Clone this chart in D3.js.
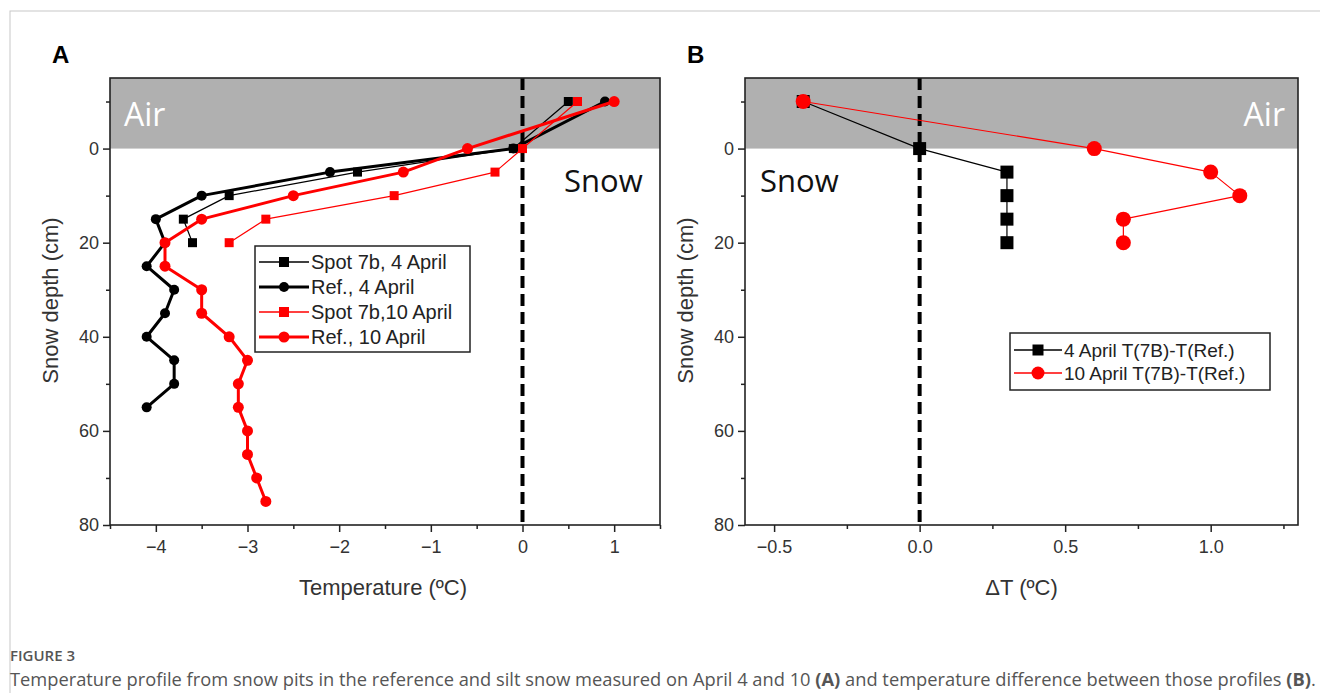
<!DOCTYPE html>
<html>
<head>
<meta charset="utf-8">
<script src="https://cdn.jsdelivr.net/npm/d3@7"></script>
<style>
  body { margin: 0; background: #fff; }
  svg { display: block; }
</style>
</head>
<body>
<div id="chart"></div>
<script>
// depth (cm) — negative values are in the air above the snow surface
var shortDepths = [-10, 0, 5, 10, 15, 20];
var refDepths4 = [-10, 0, 5, 10, 15, 20, 25, 30, 35, 40, 45, 50, 55];
var refDepths10 = [-10, 0, 5, 10, 15, 20, 25, 30, 35, 40, 45, 50, 55, 60, 65, 70, 75];

// panel A temperatures (ºC)
var spot4 = [0.5, -0.1, -1.8, -3.2, -3.7, -3.6];
var ref4 = [0.9, -0.1, -2.1, -3.5, -4.0, -3.9, -4.1, -3.8, -3.9, -4.1, -3.8, -3.8, -4.1];
var spot10 = [0.6, 0.0, -0.3, -1.4, -2.8, -3.2];
var ref10 = [1.0, -0.6, -1.3, -2.5, -3.5, -3.9, -3.9, -3.5, -3.5, -3.2, -3.0, -3.1, -3.1, -3.0, -3.0, -2.9, -2.8];

// panel B differences T(7B)-T(Ref.)
var diff4 = [-0.4, 0.0, 0.3, 0.3, 0.3, 0.3];
var diff10 = [-0.4, 0.6, 1.0, 1.1, 0.7, 0.7];

var legendA = ["Spot 7b, 4 April", "Ref., 4 April", "Spot 7b,10 April", "Ref., 10 April"];
var legendB = ["4 April T(7B)-T(Ref.)", "10 April T(7B)-T(Ref.)"];

var depthTicks = [0, 20, 40, 60, 80];
var depthMinor = [-10, 10, 30, 50, 70];
var tempTicks = [-4, -3, -2, -1, 0, 1];
var tempMinor = [-4.5, -3.5, -2.5, -1.5, -0.5, 0.5, 1.5];
var diffTicks = [-0.5, 0.0, 0.5, 1.0];
var diffMinor = [-0.25, 0.25, 0.75, 1.25];

function zip(xs, ys) {
  return xs.map(function (v, i) { return {x: v, y: ys[i]}; });
}

var svg = d3.select("#chart").append("svg")
  .attr("width", 1320).attr("height", 693);

// page frame
svg.append("rect")
  .attr("x", 10).attr("y", 11).attr("width", 1330).attr("height", 700)
  .attr("fill", "none").attr("stroke", "#c8c8c8").attr("stroke-width", 1);

var axisFont = "Liberation Sans, Arial, sans-serif";

function panel(opt) {
  var g = svg.append("g");
  var x = d3.scaleLinear().domain(opt.xDomain).range([opt.left, opt.right]);
  var y = d3.scaleLinear().domain([-15, 80]).range([opt.top, opt.bottom]);

  // air band
  g.append("rect")
    .attr("x", opt.left).attr("y", y(-15))
    .attr("width", opt.right - opt.left).attr("height", y(0) - y(-15))
    .attr("fill", "#b0b0b0");

  g.append("text").attr("x", opt.airX).attr("y", y(-10) + 24)
    .attr("text-anchor", opt.airAnchor)
    .attr("font-family", "Open Sans, sans-serif").attr("font-size", 32)
    .attr("fill", "#fff").text("Air");
  g.append("text").attr("x", opt.snowX).attr("y", y(5) + 20)
    .attr("font-family", "Open Sans, sans-serif").attr("font-size", 31)
    .attr("fill", "#111").text("Snow");

  // dashed zero line
  g.append("line")
    .attr("x1", x(0)).attr("x2", x(0)).attr("y1", opt.top).attr("y2", opt.bottom)
    .attr("stroke", "#000").attr("stroke-width", 4).attr("stroke-dasharray", "12,6");

  // axes
  g.append("g").attr("transform", "translate(0," + opt.bottom + ")")
    .call(d3.axisBottom(x).tickValues(opt.xTicks).tickSize(7).tickPadding(8).tickFormat(opt.xFormat));
  g.append("g").attr("transform", "translate(0," + opt.bottom + ")")
    .call(d3.axisBottom(x).tickValues(opt.xMinor).tickSize(4).tickFormat(""));
  g.append("g").attr("transform", "translate(" + opt.left + ",0)")
    .call(d3.axisLeft(y).tickValues(depthTicks).tickSize(7).tickPadding(4));
  g.append("g").attr("transform", "translate(" + opt.left + ",0)")
    .call(d3.axisLeft(y).tickValues(depthMinor).tickSize(4).tickFormat(""));
  g.selectAll(".domain").remove();
  g.selectAll(".tick line").attr("stroke", "#222").attr("stroke-width", 1.5);
  g.selectAll(".tick text").attr("font-family", axisFont).attr("font-size", 18).attr("fill", "#333");

  // frame
  g.append("rect")
    .attr("x", opt.left).attr("y", opt.top)
    .attr("width", opt.right - opt.left).attr("height", opt.bottom - opt.top)
    .attr("fill", "none").attr("stroke", "#222").attr("stroke-width", 1.6);

  // titles
  g.append("text").attr("x", (opt.left + opt.right) / 2 - opt.xTitleShift).attr("y", 595)
    .attr("text-anchor", "middle").attr("font-family", axisFont).attr("font-size", 22)
    .attr("fill", "#333").text(opt.xTitle);
  g.append("text")
    .attr("transform", "translate(" + (opt.left - 52) + "," + ((opt.top + opt.bottom) / 2 - 1) + ") rotate(-90)")
    .attr("text-anchor", "middle").attr("font-family", axisFont).attr("font-size", 22)
    .attr("fill", "#333").text("Snow depth (cm)");
  g.append("text").attr("x", opt.left - 58).attr("y", 63)
    .attr("font-family", axisFont).attr("font-size", 24).attr("font-weight", "bold")
    .text(opt.letter);

  return {g: g, x: x, y: y};
}

function series(p, pts, color, width, shape, size) {
  var line = d3.line().x(function (d) { return p.x(d.x); }).y(function (d) { return p.y(d.y); });
  p.g.append("path").datum(pts).attr("d", line)
    .attr("fill", "none").attr("stroke", color).attr("stroke-width", width)
    .attr("stroke-linejoin", "round");
  var sym = d3.symbol().type(shape === "square" ? d3.symbolSquare : d3.symbolCircle)
    .size(shape === "square" ? size * size : Math.PI * size * size / 4);
  p.g.selectAll(null).data(pts).enter().append("path")
    .attr("d", sym)
    .attr("transform", function (d) { return "translate(" + p.x(d.x) + "," + p.y(d.y) + ")"; })
    .attr("fill", color);
}

function legend(p, box, items) {
  var lg = p.g.append("g");
  lg.append("rect").attr("x", box.x).attr("y", box.y).attr("width", box.w).attr("height", box.h)
    .attr("fill", "#fff").attr("stroke", "#222").attr("stroke-width", 1.5);
  items.forEach(function (it, i) {
    var yy = box.y + box.first + i * box.step;
    lg.append("line").attr("x1", box.x + 4).attr("x2", box.x + box.sample).attr("y1", yy).attr("y2", yy)
      .attr("stroke", it.color).attr("stroke-width", it.width);
    var cx = box.x + 4 + (box.sample - 4) / 2;
    var sym = d3.symbol().type(it.shape === "square" ? d3.symbolSquare : d3.symbolCircle)
      .size(it.shape === "square" ? it.size * it.size : Math.PI * it.size * it.size / 4);
    lg.append("path").attr("d", sym).attr("transform", "translate(" + cx + "," + yy + ")").attr("fill", it.color);
    lg.append("text").attr("x", box.x + box.sample + 2).attr("y", yy + 7)
      .attr("font-family", axisFont).attr("font-size", box.font).attr("fill", "#222").text(it.label);
  });
}

// Panel A
var pA = panel({
  left: 110, right: 660, top: 78, bottom: 525,
  xDomain: [-4.5, 1.5], xTicks: tempTicks, xMinor: tempMinor, xFormat: d3.format("d"),
  xTitle: "Temperature (ºC)", xTitleShift: 2, letter: "A",
  airX: 124, airAnchor: "start", snowX: 564
});
series(pA, zip(spot4, shortDepths), "#000", 1.2, "square", 9);
series(pA, zip(ref4, refDepths4), "#000", 3, "circle", 10);
series(pA, zip(spot10, shortDepths), "#f00", 1.2, "square", 9);
series(pA, zip(ref10, refDepths10), "#f00", 3, "circle", 11);
legend(pA, {x: 255, y: 246, w: 215, h: 106, first: 16, step: 25, sample: 54, font: 20}, [
  {label: legendA[0], color: "#000", width: 1.5, shape: "square", size: 10},
  {label: legendA[1], color: "#000", width: 3, shape: "circle", size: 10},
  {label: legendA[2], color: "#f00", width: 1.5, shape: "square", size: 10},
  {label: legendA[3], color: "#f00", width: 3, shape: "circle", size: 11}
]);

// Panel B
var pB = panel({
  left: 745, right: 1298, top: 78, bottom: 525,
  xDomain: [-0.6, 1.3], xTicks: diffTicks, xMinor: diffMinor, xFormat: d3.format(".1f"),
  xTitle: "ΔT (ºC)", xTitleShift: 0, letter: "B",
  airX: 1285, airAnchor: "end", snowX: 760
});
series(pB, zip(diff4, shortDepths), "#000", 1.2, "square", 13);
series(pB, zip(diff10, shortDepths), "#f00", 1.2, "circle", 15);
legend(pB, {x: 1010, y: 333, w: 260, h: 57, first: 17, step: 23, sample: 52, font: 19}, [
  {label: legendB[0], color: "#000", width: 1.5, shape: "square", size: 11},
  {label: legendB[1], color: "#f00", width: 1.5, shape: "circle", size: 13}
]);

// caption
svg.append("text").attr("x", 10).attr("y", 661)
  .attr("font-family", "Open Sans, sans-serif").attr("font-size", 15).attr("font-weight", 600)
  .attr("fill", "#555").text("FIGURE 3");
var cap = svg.append("text").attr("x", 10).attr("y", 686)
  .attr("font-family", "Open Sans, sans-serif").attr("font-size", 18.3).attr("fill", "#555");
cap.append("tspan").text("Temperature profile from snow pits in the reference and silt snow measured on April 4 and 10 ");
cap.append("tspan").attr("font-weight", "bold").text("(A)");
cap.append("tspan").text(" and temperature difference between those profiles ");
cap.append("tspan").attr("font-weight", "bold").text("(B)");
cap.append("tspan").text(".");
</script>
</body>
</html>
